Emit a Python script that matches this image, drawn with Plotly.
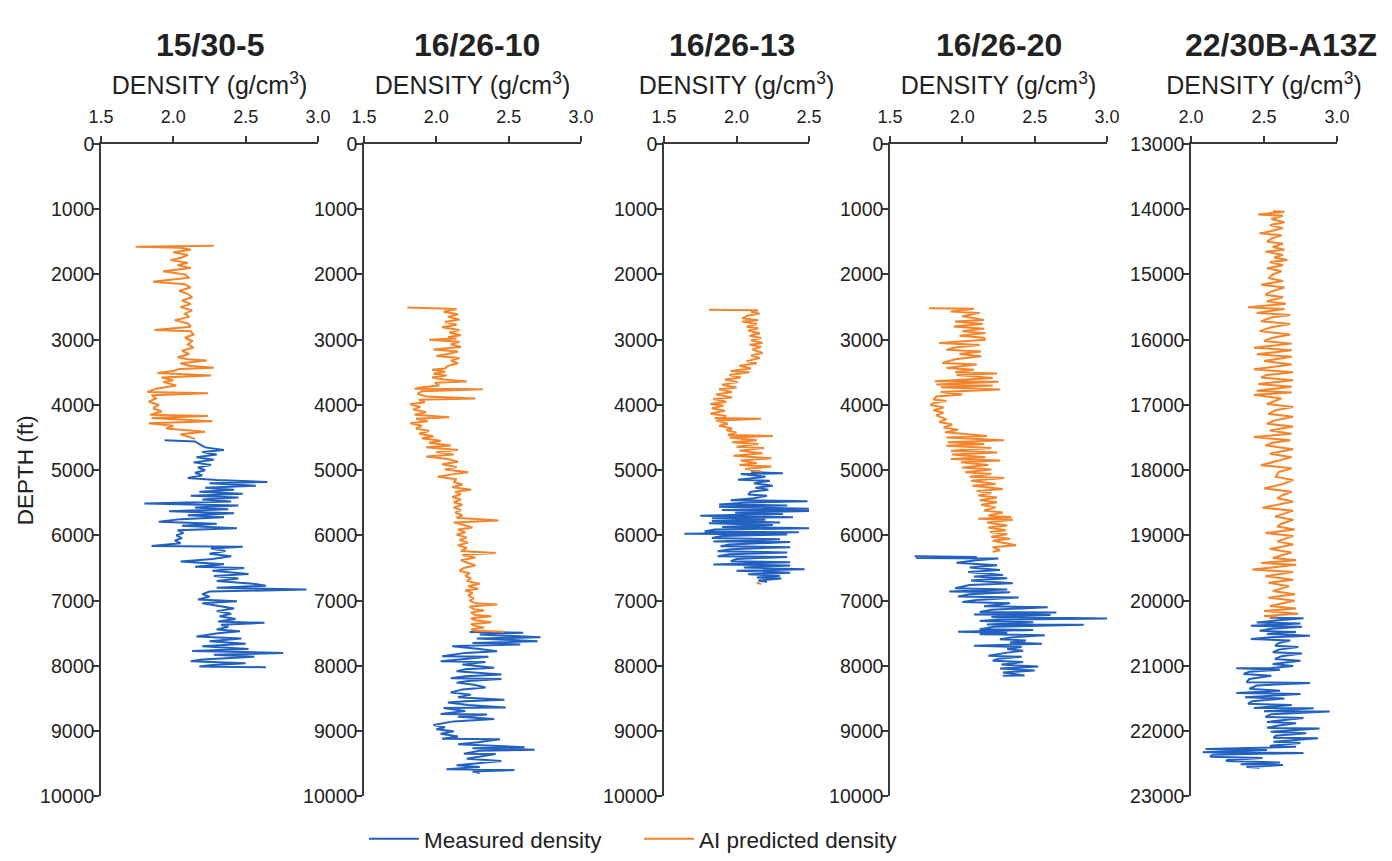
import plotly.graph_objects as go

# ---------------- data (depth in ft, density in g/cm3) ----------------
WELLS = ["15/30-5", "16/26-10", "16/26-13", "16/26-20", "22/30B-A13Z"]

W1_AI_DEPTH = [1560,1575,1590,1620,1660,1700,1740,1780,1820,1860,
               1900,1950,2000,2050,2080,2110,2150,2200,2250,2300,
               2350,2400,2450,2500,2550,2600,2650,2700,2750,2800,
               2850,2870,2920,2970,3020,3070,3120,3170,3220,3270,
               3300,3320,3360,3400,3430,3450,3480,3510,3550,3580,
               3620,3650,3700,3750,3800,3820,3850,3900,3950,4000,
               4050,4100,4150,4170,4200,4250,4280,4320,4360,4410,
               4450,4480,4520]
W1_AI_RHO = [2.28,1.74,2.05,2.12,2.00,2.10,2.06,1.98,2.10,2.03,
             2.12,1.93,2.08,2.11,1.98,1.86,2.08,2.12,2.04,2.10,
             2.13,2.06,2.12,2.05,2.13,2.08,2.11,2.01,2.10,2.12,
             1.87,2.12,2.14,2.08,2.13,2.10,2.14,2.06,2.11,2.03,
             2.10,2.23,2.05,2.11,2.28,2.04,2.00,1.89,2.26,1.92,
             2.00,1.93,2.02,1.88,1.82,2.24,1.85,1.88,1.83,1.90,
             1.86,1.92,1.84,2.24,1.85,2.27,1.83,2.00,1.95,2.22,
             2.05,2.10,2.15]
W1_MEAS_DEPTH = [4540,4560,4600,4650,4690,4720,4760,4800,4840,4880,
                 4920,4960,5000,5040,5080,5120,5150,5180,5200,5240,
                 5270,5300,5330,5360,5390,5420,5450,5480,5510,5540,
                 5570,5600,5630,5660,5690,5720,5750,5790,5820,5850,
                 5890,5920,5960,6000,6040,6080,6120,6160,6175,6200,
                 6240,6280,6320,6360,6400,6440,6480,6500,6540,6590,
                 6620,6660,6700,6740,6770,6800,6830,6860,6900,6940,
                 6980,7010,7040,7080,7120,7160,7200,7240,7280,7320,
                 7340,7370,7400,7440,7470,7500,7550,7580,7620,7660,
                 7700,7740,7770,7800,7830,7860,7900,7930,7960,7990,
                 8010,8020]
W1_MEAS_RHO = [1.94,2.15,2.18,2.22,2.35,2.20,2.30,2.16,2.28,2.14,
               2.26,2.17,2.22,2.15,2.20,2.10,2.30,2.65,2.25,2.57,
               2.22,2.42,2.18,2.48,2.12,2.45,2.20,2.40,1.80,2.45,
               2.15,2.38,1.97,2.42,2.10,2.35,2.05,1.90,2.30,2.06,
               2.44,2.03,2.07,2.02,2.06,2.01,2.05,1.85,2.48,2.26,
               2.36,2.25,2.40,2.27,2.05,2.35,2.15,2.49,2.27,2.52,
               2.28,2.45,2.30,2.55,2.64,2.30,2.92,2.25,2.20,2.25,
               2.17,2.44,2.20,2.30,2.42,2.30,2.40,2.32,2.43,2.31,
               2.63,2.33,2.38,2.30,2.46,2.31,2.16,2.47,2.25,2.50,
               2.20,2.52,2.13,2.76,2.28,2.56,2.20,2.12,2.50,2.25,
               2.18,2.64]

W2_AI_DEPTH = [2508,2515,2530,2570,2610,2650,2690,2730,2770,2810,
               2850,2890,2930,2960,2980,3000,3030,3070,3110,3150,
               3180,3220,3250,3280,3320,3360,3400,3440,3460,3490,
               3520,3550,3580,3610,3640,3660,3700,3730,3750,3760,
               3790,3830,3870,3900,3920,3960,3990,4030,4070,4110,
               4150,4190,4210,4250,4280,4320,4360,4400,4440,4480,
               4510,4550,4580,4620,4650,4690,4720,4760,4790,4830,
               4870,4910,4950,4990,5030,5060,5100,5140,5180,5220,
               5260,5300,5330,5370,5410,5450,5490,5530,5570,5610,
               5650,5690,5730,5770,5800,5840,5880,5910,5950,5990,
               6030,6070,6110,6150,6190,6240,6270,6300,6340,6380,
               6420,6460,6500,6540,6580,6620,6660,6700,6740,6780,
               6820,6840,6880,6920,6960,7000,7040,7060,7090,7130,
               7150,7180,7220,7240,7270,7300,7330,7360,7390,7410,
               7440,7460,7475]
W2_AI_RHO = [1.80,2.00,2.14,2.05,2.15,2.08,2.16,2.06,2.14,2.04,
             2.16,2.09,2.17,2.08,2.14,1.95,2.16,2.10,2.17,1.98,
             2.15,2.08,2.00,2.16,2.10,2.15,2.08,2.06,1.97,2.06,
             1.98,2.07,1.97,2.05,2.21,1.99,2.02,1.90,1.85,2.32,
             1.90,1.87,1.93,2.27,1.88,1.92,1.82,1.89,1.84,1.93,
             1.85,2.09,1.86,1.94,1.82,1.90,1.86,1.95,1.88,1.98,
             1.90,2.03,1.95,2.10,1.93,2.15,2.00,2.12,1.93,2.08,
             2.15,2.04,2.14,2.06,2.22,2.12,2.01,2.14,2.12,2.18,
             2.11,2.24,2.13,2.17,2.11,2.17,2.12,2.18,2.12,2.17,
             2.13,2.18,2.14,2.43,2.12,2.19,2.25,2.15,2.20,2.14,
             2.21,2.16,2.22,2.15,2.21,2.17,2.41,2.18,2.27,2.17,
             2.22,2.27,2.19,2.16,2.23,2.20,2.24,2.21,2.30,2.22,
             2.29,2.20,2.25,2.22,2.26,2.23,2.27,2.42,2.23,2.26,
             2.33,2.24,2.27,2.38,2.24,2.27,2.38,2.24,2.27,2.33,
             2.24,2.27,2.47]
W2_MEAS_DEPTH = [7480,7490,7520,7560,7580,7620,7650,7670,7690,7700,
                 7740,7775,7800,7850,7860,7900,7927,7940,7980,8028,
                 8050,8080,8130,8160,8190,8200,8230,8256,8290,8332,
                 8360,8408,8440,8480,8520,8540,8560,8600,8636,8645,
                 8690,8738,8745,8780,8814,8850,8905,8940,8970,9000,
                 9040,9080,9118,9125,9170,9200,9245,9260,9285,9300,
                 9346,9350,9390,9422,9458,9490,9524,9550,9585,9595,
                 9620,9640]
W2_MEAS_RHO = [2.23,2.60,2.30,2.72,2.28,2.70,2.25,2.58,2.19,2.11,
               2.30,2.42,2.20,2.04,2.36,2.15,2.03,2.34,2.18,2.40,
               2.20,2.14,2.45,2.20,2.10,2.45,2.22,2.14,2.26,2.34,
               2.18,2.10,2.24,2.15,2.47,2.20,2.08,2.22,2.48,2.05,
               2.20,2.03,2.35,2.15,2.40,2.12,1.98,2.06,2.00,2.12,
               2.03,2.15,2.04,2.44,2.29,2.15,2.61,2.25,2.68,2.30,
               2.19,2.41,2.28,2.21,2.45,2.28,2.14,2.30,2.07,2.54,
               2.25,2.30]

W3_AI_DEPTH = [2540,2548,2570,2600,2630,2672,2700,2722,2760,2800,
               2823,2860,2900,2940,2975,3010,3050,3076,3110,3150,
               3202,3240,3280,3328,3360,3400,3440,3480,3500,3540,
               3580,3610,3650,3690,3732,3760,3800,3840,3884,3910,
               3950,3985,4010,4050,4090,4136,4170,4200,4212,4240,
               4288,4320,4360,4389,4420,4460,4475,4500,4540,4570,
               4600,4641,4660,4700,4740,4780,4818,4850,4894,4920,
               4944,4980,5020,None,6725,6745]
W3_AI_RHO = [1.81,2.15,2.10,2.16,2.08,2.04,2.15,2.04,2.14,2.07,
             2.15,2.08,2.16,2.09,2.17,2.10,2.18,2.09,2.17,2.11,
             2.18,2.10,2.16,2.07,2.14,2.02,2.10,1.96,2.09,1.95,
             2.03,1.92,2.01,1.90,2.00,1.88,1.97,1.86,1.97,1.84,
             1.93,1.82,1.91,1.83,1.92,1.82,1.93,1.85,2.17,1.86,
             1.94,1.88,1.97,1.93,2.00,1.94,2.25,1.95,2.14,1.97,
             2.15,2.00,2.19,2.02,2.18,1.98,2.24,2.03,2.14,2.02,
             2.24,2.06,2.17,None,2.14,2.17]
W3_MEAS_DEPTH = [5030,5045,5060,5100,5146,5160,5200,5240,5270,5298,
                 5330,5373,5390,5430,5460,5474,5500,5525,5540,5561,
                 5590,5611,5625,5651,5670,5700,5720,5737,5760,5777,
                 5800,5813,5840,5870,5889,5910,5939,5950,5975,5985,
                 6010,6040,6060,6091,6100,6140,6167,6180,6210,6242,
                 6260,6290,6318,6330,6360,6394,6410,6444,6460,6490,
                 6520,6540,6570,6596,6620,6646,6660,6690,6712]
W3_MEAS_RHO = [2.10,2.32,2.03,2.20,2.01,2.23,2.12,2.25,2.13,2.22,
               2.10,2.08,2.21,2.12,1.96,2.49,2.05,1.88,2.35,1.88,
               2.50,1.90,2.51,1.99,2.32,1.75,2.39,1.83,2.20,1.83,
               2.30,1.81,2.25,1.90,2.51,1.85,1.78,2.43,1.64,2.35,
               1.90,1.83,2.30,1.84,2.37,1.95,1.89,2.37,1.96,1.87,
               2.35,1.95,1.87,2.35,2.00,1.96,2.37,1.84,2.37,2.05,
               2.47,2.00,2.37,2.08,2.30,2.14,2.31,2.15,2.21]

W4_AI_DEPTH = [2518,2525,2569,2590,2640,2696,2720,2760,2798,2830,
               2870,2899,2940,2970,3001,3030,3052,3080,3120,3153,
               3180,3220,3255,3300,3356,3380,3433,3460,3500,3519,
               3540,3585,3610,3636,3645,3687,3700,3730,3763,3800,
               3839,3870,3915,3940,3970,4002,4040,4080,4118,4160,
               4220,4260,4300,4347,4380,4420,4474,4500,4540,4570,
               4600,4626,4660,4700,4728,4760,4800,4830,4850,4880,
               4920,4957,4990,5033,5060,5100,5119,5160,5211,5240,
               5287,5320,5350,5388,5420,5460,5490,5530,5570,5617,
               5650,5693,5720,5744,5760,5800,5846,5880,5920,5947,
               5980,6020,6049,6080,6120,6150,6180,6227,6250]
W4_AI_RHO = [1.77,2.08,1.92,2.12,2.00,2.15,1.95,2.14,1.94,2.15,
             2.00,2.16,1.98,2.15,2.16,2.00,1.84,2.12,1.95,1.89,
             2.13,1.98,2.13,1.95,1.86,2.10,1.89,2.08,1.95,2.24,
             1.96,2.21,1.96,1.81,2.25,1.82,2.21,1.85,2.26,1.85,
             2.00,1.82,1.80,1.89,1.80,1.78,1.87,1.80,1.87,1.82,
             1.89,1.84,1.93,1.87,1.97,1.88,2.17,1.89,2.29,1.90,
             2.15,1.89,2.20,1.92,2.24,1.93,2.16,1.92,2.26,1.99,
             2.18,2.00,2.20,2.02,2.20,2.05,2.29,2.06,2.23,2.07,
             2.28,2.10,2.20,2.11,2.24,2.12,2.24,2.13,2.23,2.15,
             2.28,2.18,2.34,2.11,2.35,2.17,2.31,2.18,2.30,2.19,
             2.31,2.20,2.33,2.21,2.30,2.37,2.21,2.26,2.21]
W4_MEAS_DEPTH = [6320,6330,6345,6354,6380,6420,6455,6490,6530,6560,
                 6606,6630,6657,6690,6732,6760,6808,6830,6858,6870,
                 6900,6934,6950,6990,7020,7040,7086,7100,7140,7172,
                 7180,7212,7220,7250,7273,7290,7313,7330,7364,7370,
                 7400,7439,7450,7475,7490,7515,7530,7560,7591,7610,
                 7641,7660,7692,7710,7740,7767,7800,7843,7860,7890,
                 7919,7940,7980,8010,8040,8070,8100,8146,8150]
W4_MEAS_RHO = [1.67,2.10,1.68,2.25,2.10,1.96,2.24,2.05,2.26,2.04,
               2.28,2.08,2.31,2.06,2.35,2.05,1.95,2.31,1.91,2.33,
               2.05,1.97,2.39,2.10,2.00,2.33,2.15,2.59,2.20,2.12,
               2.65,2.08,2.61,2.20,3.06,2.25,2.12,2.49,2.17,2.84,
               2.22,2.12,2.49,1.97,2.31,2.12,2.57,2.35,2.26,2.44,
               2.33,2.55,2.08,2.41,2.31,2.42,2.30,2.18,2.41,2.25,
               2.21,2.42,2.27,2.525,2.26,2.50,2.28,2.43,2.28]

W5_AI_DEPTH = [14030,14040,14081,14100,14150,14200,14244,14290,14330,14370,
               14400,14450,14497,14530,14580,14620,14650,14700,14740,14777,
               14810,14860,14904,14950,15000,15056,15100,15157,15200,15260,
               15310,15350,15411,15450,15502,15530,15589,15620,15660,15716,
               15760,15810,15868,15920,15970,16020,16060,16122,16160,16223,
               16260,16325,16380,16452,16500,16540,16579,16620,16680,16720,
               16782,16810,16843,16900,16985,17030,17080,17137,17180,17240,
               17289,17330,17391,17440,17492,17540,17580,17619,17680,17746,
               17800,17860,17924,17970,18030,18102,18150,18220,18279,18330,
               18380,18431,18480,18574,18620,18711,18760,18820,18863,18910,
               18964,19010,19091,19140,19208,19260,19345,19380,19421,19450,
               19523,19560,19624,19680,19726,19780,19853,19900,19954,20000,
               20081,20120,20157,20200,20233,20250]
W5_AI_RHO = [2.56,2.64,2.46,2.63,2.55,2.64,2.54,2.63,2.56,2.47,
             2.62,2.55,2.52,2.63,2.56,2.64,2.51,2.63,2.57,2.66,
             2.54,2.63,2.52,2.62,2.56,2.53,2.63,2.48,2.64,2.55,
             2.51,2.63,2.52,2.65,2.39,2.64,2.45,2.68,2.55,2.48,
             2.68,2.55,2.47,2.68,2.56,2.50,2.69,2.43,2.69,2.45,
             2.69,2.50,2.69,2.43,2.70,2.52,2.48,2.70,2.46,2.69,
             2.45,2.69,2.43,2.62,2.52,2.70,2.58,2.53,2.70,2.57,
             2.52,2.70,2.54,2.69,2.43,2.68,2.56,2.51,2.70,2.54,
             2.69,2.58,2.48,2.69,2.60,2.58,2.70,2.62,2.50,2.69,
             2.63,2.59,2.70,2.49,2.70,2.575,2.70,2.62,2.59,2.71,
             2.51,2.70,2.59,2.70,2.54,2.69,2.56,2.72,2.48,2.72,
             2.42,2.70,2.51,2.70,2.53,2.67,2.56,2.71,2.53,2.71,
             2.54,2.72,2.50,2.735,2.50,2.59]
W5_MEAS_DEPTH = [20260,20269,20300,20335,20350,20386,20400,20430,20462,20480,
                 20510,20538,20560,20589,20610,20650,20690,20710,20750,20792,
                 20810,20850,20893,20920,20970,21000,21030,21036,21060,21090,
                 21122,21150,21200,21249,21260,21300,21350,21380,21416,21430,
                 21482,21500,21540,21579,21600,21645,21650,21695,21700,21740,
                 21782,21800,21858,21880,21920,21949,21960,22010,22030,22070,
                 22101,22110,22162,22180,22223,22240,22274,22290,22325,22335,
                 22360,22391,22410,22440,22457,22480,22508,22520,22550,22559]
W5_MEAS_RHO = [2.54,2.77,2.60,2.45,2.75,2.41,2.76,2.55,2.47,2.72,
               2.52,2.815,2.55,2.41,2.68,2.60,2.575,2.735,2.60,2.56,
               2.76,2.62,2.575,2.75,2.56,2.70,2.55,2.31,2.61,2.40,
               2.36,2.55,2.40,2.38,2.815,2.45,2.40,2.61,2.31,2.75,
               2.37,2.64,2.42,2.39,2.69,2.43,2.84,2.50,2.95,2.55,
               2.51,2.77,2.52,2.72,2.58,2.52,2.88,2.545,2.79,2.58,
               2.565,2.87,2.565,2.75,2.54,2.72,2.10,2.52,2.08,2.77,
               2.15,2.13,2.49,2.25,2.24,2.61,2.34,2.63,2.38,2.47]

X_RANGES = [[1.5, 3.0], [1.5, 3.0], [1.5, 2.5], [1.5, 3.0], [2.0, 3.0]]
X_TICKS = [[1.5, 2.0, 2.5, 3.0], [1.5, 2.0, 2.5, 3.0], [1.5, 2.0, 2.5],
           [1.5, 2.0, 2.5, 3.0], [2.0, 2.5, 3.0]]
Y_RANGES = [[0, 10000]] * 4 + [[13000, 23000]]
Y_TICKS = [list(range(0, 10001, 1000))] * 4 + [list(range(13000, 23001, 1000))]

SERIES = [
    (W1_MEAS_DEPTH, W1_MEAS_RHO, W1_AI_DEPTH, W1_AI_RHO),
    (W2_MEAS_DEPTH, W2_MEAS_RHO, W2_AI_DEPTH, W2_AI_RHO),
    (W3_MEAS_DEPTH, W3_MEAS_RHO, W3_AI_DEPTH, W3_AI_RHO),
    (W4_MEAS_DEPTH, W4_MEAS_RHO, W4_AI_DEPTH, W4_AI_RHO),
    (W5_MEAS_DEPTH, W5_MEAS_RHO, W5_AI_DEPTH, W5_AI_RHO),
]

# ---------------- styling / layout ----------------
W, H = 1392, 861
BLUE = "#2261c0"
ORANGE = "#f6842a"
FONT = "Liberation Sans, Arial, Helvetica, sans-serif"
TXT = "#222222"
AX = "#3a3a3a"
LW = 2.0

PANEL_PX = [(101, 318), (364, 581), (664, 809), (890, 1107), (1191, 1337)]
TITLE_X_PX = [210, 477, 732, 999, 1281]
Y_TOP_PX, Y_BOT_PX = 145, 802

fig = go.Figure()
layout = dict(
    width=W, height=H,
    margin=dict(l=0, r=0, t=0, b=0),
    paper_bgcolor="white", plot_bgcolor="white",
    font=dict(family=FONT, color=TXT, size=18),
    showlegend=True,
    legend=dict(orientation="h", x=364 / W, xanchor="left",
                y=1 - 845 / H, yanchor="middle",
                font=dict(size=22.5, color=TXT), itemwidth=50,
                entrywidth=210, entrywidthmode="pixels",
                bgcolor="rgba(0,0,0,0)"),
    annotations=[],
)

for i, (md, mr, ad, ar) in enumerate(SERIES):
    n = i + 1
    xa = "x" if n == 1 else f"x{n}"
    ya = "y" if n == 1 else f"y{n}"
    fig.add_trace(go.Scatter(x=mr, y=md, mode="lines", xaxis=xa, yaxis=ya,
                             line=dict(color=BLUE, width=LW),
                             name="Measured density", legendgroup="m",
                             showlegend=(n == 1)))
    fig.add_trace(go.Scatter(x=ar, y=ad, mode="lines", xaxis=xa, yaxis=ya,
                             line=dict(color=ORANGE, width=LW),
                             name="AI predicted density", legendgroup="a",
                             showlegend=(n == 1), connectgaps=False))
    x0, x1 = PANEL_PX[i]
    layout[f"xaxis{'' if n == 1 else n}"] = dict(
        domain=[x0 / W, x1 / W], anchor=ya, side="top",
        range=X_RANGES[i], tickvals=X_TICKS[i],
        ticktext=[f"{v:.1f}" for v in X_TICKS[i]],
        showline=True, linecolor=AX, linewidth=1.5, mirror=False,
        ticks="outside", ticklen=6, tickwidth=1.5, tickcolor=AX,
        ticklabelstandoff=6,
        showgrid=False, zeroline=False, automargin=False,
        tickfont=dict(size=18, color=TXT),
        title=dict(text="DENSITY (g/cm<sup>3</sup>)", font=dict(size=25, color=TXT),
                   standoff=5),
    )
    ydict = dict(
        domain=[1 - Y_BOT_PX / H, 1 - Y_TOP_PX / H], anchor=xa,
        range=[Y_RANGES[i][1], Y_RANGES[i][0]], tickvals=Y_TICKS[i],
        ticktext=[str(v) for v in Y_TICKS[i]],
        showline=True, linecolor=AX, linewidth=1.5,
        ticks="outside", ticklen=6, tickwidth=1.5, tickcolor=AX,
        ticklabelstandoff=-5,
        showgrid=False, zeroline=False, automargin=False,
        tickfont=dict(size=19.5, color=TXT),
    )
    if n == 1:
        ydict["title"] = dict(text="DEPTH (ft)", font=dict(size=22.5, color=TXT), standoff=0)
    layout[f"yaxis{'' if n == 1 else n}"] = ydict
    layout["annotations"].append(dict(
        text=f"<b>{WELLS[i]}</b>", x=TITLE_X_PX[i] / W, y=1 - 45 / H,
        xref="paper", yref="paper", xanchor="center", yanchor="middle",
        showarrow=False, font=dict(size=32, color=TXT, family=FONT)))

fig.update_layout(**layout)
fig.write_html("out.html", config={"displayModeBar": False},
               post_script="document.body.style.margin='0';document.body.style.overflow='hidden';")
